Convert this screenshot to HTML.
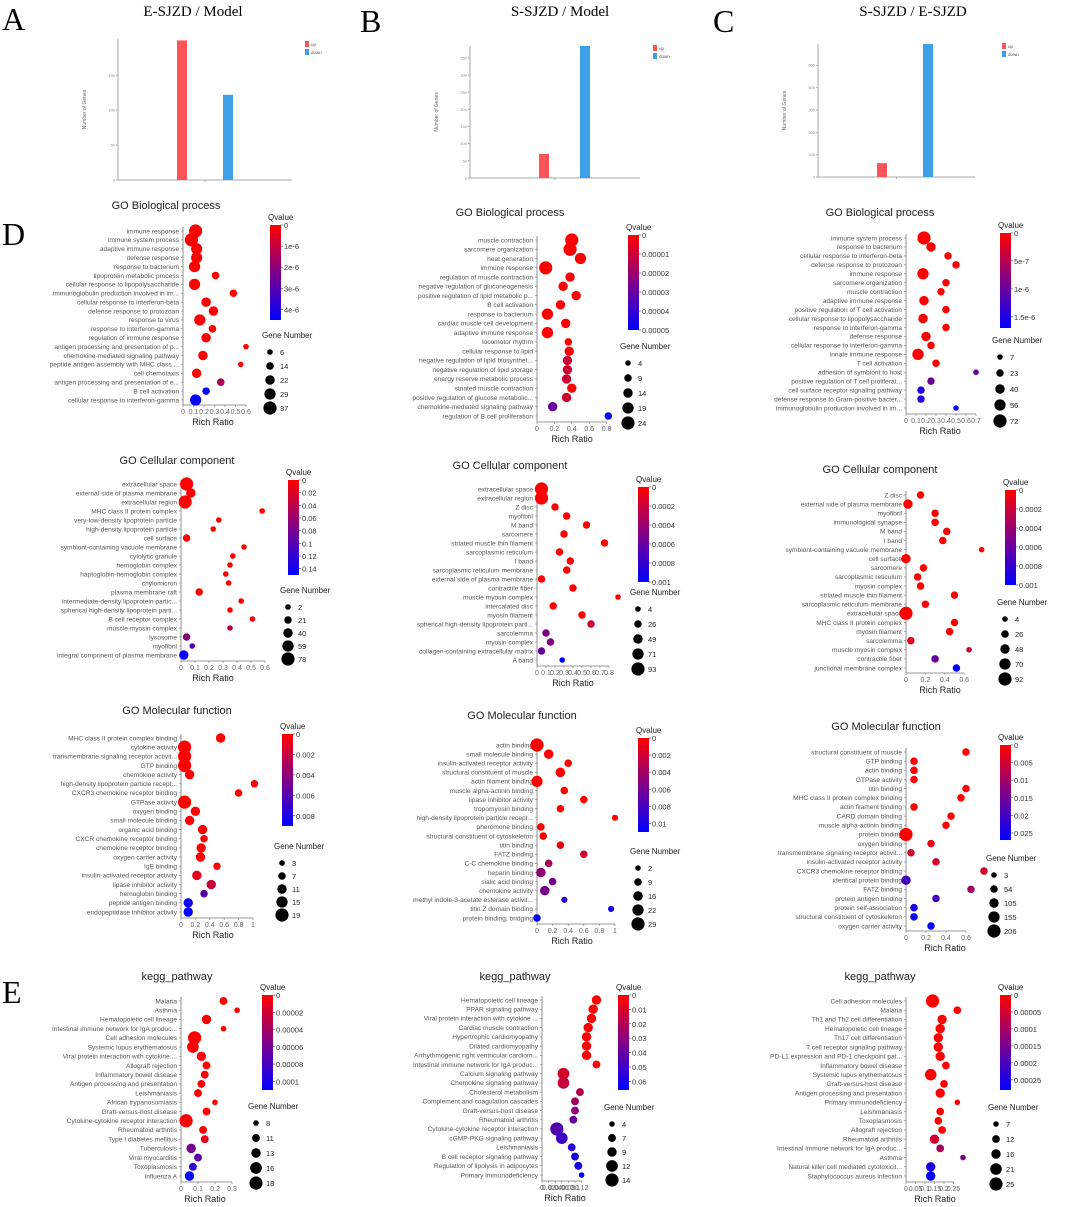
<!DOCTYPE html>
<html><head><meta charset="utf-8">
<style>
html,body{margin:0;padding:0;background:#fff;}
svg{display:block;font-family:"Liberation Sans",sans-serif;}
</style></head>
<body>
<svg id="fig" width="1065" height="1207" viewBox="0 0 1065 1207" xmlns="http://www.w3.org/2000/svg">
<defs>
<linearGradient id="qgrad" x1="0" y1="0" x2="0" y2="1"><stop offset="0" stop-color="#ff0000"/><stop offset="0.5" stop-color="#80008a"/><stop offset="1" stop-color="#0000ff"/></linearGradient>
</defs>
<g font-family="Liberation Serif,serif" fill="#000">
<text x="2" y="30" font-size="32">A</text>
<text x="360" y="32" font-size="32">B</text>
<text x="713" y="32" font-size="32">C</text>
<text x="2" y="245" font-size="32">D</text>
<text x="2" y="1003" font-size="32">E</text>
</g>
</svg>
<script>
// ---------- bar chart data ----------
const barCats = ["up","down"];
const barA = [200,122];
const barB = [70,385];
const barC = [62,595];
const barTicksA = [0,50,100,150];
const barTicksB = [0,50,100,150,200,250,300,350];
const barTicksC = [0,100,200,300,400,500];

// ---------- dot plot data ----------
const bp1Terms = ["immune response","immune system process","adaptive immune response","defense response","response to bacterium","lipoprotein metabolic process","cellular response to lipopolysaccharide","immunoglobulin production involved in im...","cellular response to interferon-beta","defense response to protozoan","response to virus","response to interferon-gamma","regulation of immune response","antigen processing and presentation of p...","chemokine-mediated signaling pathway","peptide antigen assembly with MHC class ...","cell chemotaxis","antigen processing and presentation of e...","B cell activation","cellular response to interferon-gamma"];
const bp1Ratio = [0.12,0.08,0.13,0.13,0.11,0.31,0.11,0.48,0.22,0.29,0.16,0.28,0.22,0.6,0.19,0.55,0.13,0.36,0.22,0.12];
const bp1Q = [0,0,0,0,0,0,0,0,0,0,0,0,0,0,0,0,0,1.5e-6,4.5e-6,4.5e-6];
const bp1Genes = [37,37,29,29,29,14,29,14,22,22,29,14,22,6,22,6,22,14,14,29];

const bp2Terms = ["muscle contraction","sarcomere organization","heat generation","immune response","regulation of muscle contraction","negative regulation of gluconeogenesis","positive regulation of lipid metabolic p...","B cell activation","response to bacterium","cardiac muscle cell development","adaptive immune response","locomotor rhythm","cellular response to lipid","negative regulation of lipid biosynthet...","negative regulation of lipid storage","energy reserve metabolic process","striated muscle contraction","positive regulation of glucose metabolic...","chemokine-mediated signaling pathway","regulation of B cell proliferation"];
const bp2Ratio = [0.4,0.38,0.5,0.1,0.38,0.3,0.45,0.27,0.12,0.33,0.12,0.36,0.37,0.35,0.35,0.34,0.4,0.34,0.18,0.82];
const bp2Q = [0,0,0,0,0,0,0,0,0,0,0,0,0,1e-5,1e-5,1e-5,0,1e-5,3e-5,5e-5];
const bp2Genes = [24,24,19,24,14,14,14,14,19,14,19,9,14,14,14,14,14,14,14,9];

const bp3Terms = ["immune system process","response to bacterium","cellular response to interferon-beta","defense response to protozoan","immune response","sarcomere organization","muscle contraction","adaptive immune response","positive regulation of T cell activation","cellular response to lipopolysaccharide","response to interferon-gamma","defense response","cellular response to interferon-gamma","innate immune response","T cell activation","adhesion of symbiont to host","positive regulation of T cell proliferat...","cell surface receptor signaling pathway","defense response to Gram-positive bacter...","immunoglobulin production involved in im..."];
const bp3Ratio = [0.18,0.25,0.42,0.5,0.17,0.4,0.35,0.18,0.4,0.17,0.4,0.2,0.25,0.12,0.3,0.7,0.25,0.15,0.15,0.5];
const bp3Q = [0,0,0,0,0,0,0,0,0,0,0,0,0,0,0,1e-6,1e-6,1.5e-6,1.5e-6,1.7e-6];
const bp3Genes = [72,40,23,23,56,23,23,40,23,40,23,40,23,56,23,7,23,23,23,7];

const cc1Terms = ["extracellular space","external side of plasma membrane","extracellular region","MHC class II protein complex","very-low-density lipoprotein particle","high-density lipoprotein particle","cell surface","symbiont-containing vacuole membrane","cytolytic granule","hemoglobin complex","haptoglobin-hemoglobin complex","chylomicron","plasma membrane raft","intermediate-density lipoprotein partic...","spherical high-density lipoprotein parti...","B cell receptor complex","muscle myosin complex","lysosome","myofibril","integral component of plasma membrane"];
const cc1Ratio = [0.04,0.07,0.03,0.58,0.27,0.23,0.04,0.45,0.37,0.35,0.32,0.34,0.13,0.43,0.35,0.51,0.35,0.04,0.08,0.02];
const cc1Q = [0,0,0,0,0,0,0,0,0,0,0,0,0,0,0,0,0.04,0.07,0.1,0.145];
const cc1Genes = [78,40,78,2,2,2,21,2,2,2,2,2,21,2,2,2,2,21,2,40];

const cc2Terms = ["extracellular space","extracellular region","Z disc","myofibril","M band","sarcomere","striated muscle thin filament","sarcoplasmic reticulum","I band","sarcoplasmic reticulum membrane","external side of plasma membrane","contractile fiber","muscle myosin complex","intercalated disc","myosin filament","spherical high-density lipoprotein parti...","sarcolemma","myosin complex","collagen-containing extracellular matrix","A band"];
const cc2Ratio = [0.05,0.05,0.2,0.33,0.55,0.3,0.75,0.25,0.37,0.33,0.05,0.4,0.9,0.18,0.5,0.6,0.1,0.15,0.05,0.28];
const cc2Q = [0,0,0,0,0,0,0,0,0,0,0,0,0,0,0,0.0002,0.0005,0.0005,0.0006,0.001];
const cc2Genes = [93,93,26,26,26,26,26,26,26,26,26,26,4,26,26,26,26,26,26,4];

const cc3Terms = ["Z disc","external side of plasma membrane","myofibril","immunological synapse","M band","I band","symbiont-containing vacuole membrane","cell surface","sarcomere","sarcoplasmic reticulum","myosin complex","striated muscle thin filament","sarcoplasmic reticulum membrane","extracellular space","MHC class II protein complex","myosin filament","sarcolemma","muscle myosin complex","contractile fiber","junctional membrane complex"];
const cc3Ratio = [0.15,0.02,0.3,0.3,0.42,0.38,0.78,0.0,0.18,0.12,0.15,0.5,0.2,0.0,0.5,0.45,0.05,0.65,0.3,0.52];
const cc3Q = [0,0,0,0,0,0,0,0,0,0,0,0,0,0,0,0,0.0001,0.0002,0.0006,0.001];
const cc3Genes = [26,48,26,26,26,26,4,48,26,26,26,26,26,92,26,26,26,4,26,26];

const mf1Terms = ["MHC class II protein complex binding","cytokine activity","transmembrane signaling receptor activit...","GTP binding","chemokine activity","high-density lipoprotein particle recept...","CXCR3 chemokine receptor binding","GTPase activity","oxygen binding","small molecule binding","organic acid binding","CXCR chemokine receptor binding","chemokine receptor binding","oxygen carrier activity","IgE binding","insulin-activated receptor activity","lipase inhibitor activity","hemoglobin binding","peptide antigen binding","endopeptidase inhibitor activity"];
const mf1Ratio = [0.55,0.05,0.05,0.05,0.12,1.02,0.8,0.05,0.2,0.12,0.3,0.32,0.28,0.27,0.5,0.22,0.42,0.32,0.1,0.1];
const mf1Q = [0,0,0,0,0,0,0,0,0,0,0,0,0,0,0,0.001,0.002,0.006,0.0085,0.009];
const mf1Genes = [11,19,19,19,11,7,7,19,11,11,11,7,11,11,7,11,11,7,11,11];

const mf2Terms = ["actin binding","small molecule binding","insulin-activated receptor activity","structural constituent of muscle","actin filament binding","muscle alpha-actinin binding","lipase inhibitor activity","tropomyosin binding","high-density lipoprotein particle recept...","pheromone binding","structural constituent of cytoskeleton","titin binding","FATZ binding","C-C chemokine binding","heparin binding","sialic acid binding","chemokine activity","methyl indole-3-acetate esterase activit...","titin Z domain binding","protein binding, bridging"];
const mf2Ratio = [0.0,0.15,0.4,0.3,0.0,0.35,0.6,0.3,1.0,0.05,0.08,0.3,0.6,0.15,0.05,0.2,0.1,0.35,0.95,0.0];
const mf2Q = [0,0,0,0,0,0,0,0,0,0,0,0.001,0.002,0.004,0.005,0.006,0.006,0.009,0.01,0.011];
const mf2Genes = [29,16,9,16,22,9,9,9,4,9,9,9,9,9,16,9,16,4,4,9];

const mf3Terms = ["structural constituent of muscle","GTP binding","actin binding","GTPase activity","titin binding","MHC class II protein complex binding","actin filament binding","CARD domain binding","muscle alpha-actinin binding","protein binding","oxygen binding","transmembrane signaling receptor activit...","insulin-activated receptor activity","CXCR3 chemokine receptor binding","identical protein binding","FATZ binding","protein antigen binding","protein self-association","structural constituent of cytoskeleton","oxygen carrier activity"];
const mf3Ratio = [0.6,0.08,0.08,0.08,0.6,0.55,0.08,0.45,0.4,0.0,0.25,0.05,0.3,0.78,0.0,0.65,0.3,0.08,0.08,0.25];
const mf3Q = [0,0,0,0,0,0,0,0,0,0,0.002,0.005,0.005,0.005,0.02,0.01,0.02,0.024,0.026,0.027];
const mf3Genes = [54,54,54,54,54,54,54,54,54,206,54,54,54,54,105,54,54,54,54,54];

const kg1Terms = ["Malaria","Asthma","Hematopoietic cell lineage","Intestinal immune network for IgA produc...","Cell adhesion molecules","Systemic lupus erythematosus","Viral protein interaction with cytokine ...","Allograft rejection","Inflammatory bowel disease","Antigen processing and presentation","Leishmaniasis","African trypanosomiasis","Graft-versus-host disease","Cytokine-cytokine receptor interaction","Rheumatoid arthritis","Type I diabetes mellitus","Tuberculosis","Viral myocarditis","Toxoplasmosis","Influenza A"];
const kg1Ratio = [0.25,0.33,0.15,0.25,0.08,0.07,0.12,0.15,0.14,0.12,0.1,0.2,0.15,0.03,0.13,0.14,0.06,0.1,0.07,0.05];
const kg1Q = [0,0,0,0,0,0,0,0,0,0,0,0,0,0,0,1e-5,6e-5,7e-5,9e-5,1.1e-4];
const kg1Genes = [11,8,13,8,18,16,13,11,11,11,11,8,11,18,11,11,13,11,11,13];

const kg2Terms = ["Hematopoietic cell lineage","PPAR signaling pathway","Viral protein interaction with cytokine ...","Cardiac muscle contraction","Hypertrophic cardiomyopathy","Dilated cardiomyopathy","Arrhythmogenic right ventricular cardiom...","Intestinal immune network for IgA produc...","Calcium signaling pathway","Chemokine signaling pathway","Cholesterol metabolism","Complement and coagulation cascades","Graft-versus-host disease","Rheumatoid arthritis","Cytokine-cytokine receptor interaction","cGMP-PKG signaling pathway","Leishmaniasis","B cell receptor signaling pathway","Regulation of lipolysis in adipocytes","Primary immunodeficiency"];
const kg2Ratio = [0.165,0.155,0.15,0.14,0.135,0.135,0.135,0.165,0.065,0.065,0.115,0.1,0.1,0.095,0.045,0.06,0.09,0.1,0.11,0.12];
const kg2Q = [0,0,0,0,0,0,0,0.001,0.01,0.015,0.02,0.025,0.03,0.04,0.045,0.05,0.055,0.06,0.06,0.065];
const kg2Genes = [9,9,9,9,9,9,9,7,12,12,7,7,7,7,14,12,7,7,7,4];

const kg3Terms = ["Cell adhesion molecules","Malaria","Th1 and Th2 cell differentiation","Hematopoietic cell lineage","Th17 cell differentiation","T cell receptor signaling pathway","PD-L1 expression and PD-1 checkpoint pat...","Inflammatory bowel disease","Systemic lupus erythematosus","Graft-versus-host disease","Antigen processing and presentation","Primary immunodeficiency","Leishmaniasis","Toxoplasmosis","Allograft rejection","Rheumatoid arthritis","Intestinal immune network for IgA produc...","Asthma","Natural killer cell mediated cytotoxicit...","Staphylococcus aureus infection"];
const kg3Ratio = [0.14,0.27,0.19,0.18,0.17,0.17,0.18,0.21,0.13,0.2,0.18,0.27,0.18,0.17,0.19,0.15,0.18,0.3,0.13,0.13];
const kg3Q = [0,0,0,0,0,0,0,0,0,0,0,0,0,0,0,5e-5,1e-4,1.5e-4,2.5e-4,2.8e-4];
const kg3Genes = [25,12,16,16,16,16,16,12,21,12,16,7,12,12,12,16,12,7,16,16];

// tick arrays
const ticksA06 = [0,0.1,0.2,0.3,0.4,0.5,0.6];
const ticksA08 = [0,0.2,0.4,0.6,0.8];
const ticksA07 = [0,0.1,0.2,0.3,0.4,0.5,0.6,0.7];
const ticksA08b = [0,0.1,0.2,0.3,0.4,0.5,0.6,0.7,0.8];
const ticksA06b = [0,0.2,0.4,0.6];
const ticksA10 = [0,0.2,0.4,0.6,0.8,1];
const ticksK1 = [0,0.1,0.2,0.3];
const ticksK2 = [0,0.02,0.04,0.06,0.08,0.1,0.12];
const ticksK3 = [0,0.05,0.1,0.15,0.2,0.25];
const qtBp1 = ["0","1e-6","2e-6","3e-6","4e-6"]; const qvBp1=[0,1e-6,2e-6,3e-6,4e-6];
const qtBp2 = ["0","0.00001","0.00002","0.00003","0.00004","0.00005"]; const qvBp2=[0,1e-5,2e-5,3e-5,4e-5,5e-5];
const qtBp3 = ["0","5e-7","1e-6","1.5e-6"]; const qvBp3=[0,5e-7,1e-6,1.5e-6];
const qtCc1 = ["0","0.02","0.04","0.06","0.08","0.1","0.12","0.14"]; const qvCc1=[0,0.02,0.04,0.06,0.08,0.1,0.12,0.14];
const qtCc2 = ["0","0.0002","0.0004","0.0006","0.0008","0.001"]; const qvCc2=[0,0.0002,0.0004,0.0006,0.0008,0.001];
const qtMf1 = ["0","0.002","0.004","0.006","0.008"]; const qvMf1=[0,0.002,0.004,0.006,0.008];
const qtMf2 = ["0","0.002","0.004","0.006","0.008","0.01"]; const qvMf2=[0,0.002,0.004,0.006,0.008,0.01];
const qtMf3 = ["0","0.005","0.01","0.015","0.02","0.025"]; const qvMf3=[0,0.005,0.01,0.015,0.02,0.025];
const qtKg1 = ["0","0.00002","0.00004","0.00006","0.00008","0.0001"]; const qvKg1=[0,2e-5,4e-5,6e-5,8e-5,1e-4];
const qtKg2 = ["0","0.01","0.02","0.03","0.04","0.05","0.06"]; const qvKg2=[0,0.01,0.02,0.03,0.04,0.05,0.06];
const qtKg3 = ["0","0.00005","0.0001","0.00015","0.0002","0.00025"]; const qvKg3=[0,5e-5,1e-4,1.5e-4,2e-4,2.5e-4];
const gBp1=[6,14,22,29,37], gBp2=[4,9,14,19,24], gBp3=[7,23,40,56,72];
const gCc1=[2,21,40,59,78], gCc2=[4,26,49,71,93], gCc3=[4,26,48,70,92];
const gMf1=[3,7,11,15,19], gMf2=[2,9,16,22,29], gMf3=[3,54,105,155,206];
const gKg1=[8,11,13,16,18], gKg2=[4,7,9,12,14], gKg3=[7,12,16,21,25];

const NS="http://www.w3.org/2000/svg";
const svg=document.getElementById('fig');
function mk(tag,attrs,parent,txt){const e=document.createElementNS(NS,tag);for(const k in attrs)e.setAttribute(k,attrs[k]);if(txt!==undefined)e.textContent=txt;(parent||svg).appendChild(e);return e;}
function qColor(q,qmax){const t=Math.max(0,Math.min(1,q/qmax));const r=Math.round(255*(1-t)),b=Math.round(255*t);return `rgb(${r},0,${b})`;}

function barChart(L,title,vals,ticks){
  const g=mk('g',{});
  
  
  const t=mk('text',{x:L.tx,y:16,'font-size':15,'text-anchor':'middle','font-family':'Liberation Serif,serif'},g,title);
  
  
  const y=v=>L.yb-(v/L.vmax)*(L.yb-L.yt);
  mk('line',{x1:L.x0,y1:L.yt,x2:L.x0,y2:L.yb,stroke:'#aaa','stroke-width':1},g);
  mk('line',{x1:L.x0,y1:L.yb,x2:L.x1,y2:L.yb,stroke:'#aaa','stroke-width':1},g);
  mk('line',{x1:(L.x0+L.x1)/2,y1:L.yb,x2:(L.x0+L.x1)/2,y2:L.yb+2,stroke:'#aaa'},g);
  ticks.forEach(v=>{mk('line',{x1:L.x0-2,y1:y(v),x2:L.x0,y2:y(v),stroke:'#aaa'},g);
    mk('text',{x:L.x0-3,y:y(v)+1.5,'font-size':4,fill:'#888','text-anchor':'end'},g,String(v));});
  const yl=mk('text',{x:L.x0-32,y:(L.yt+L.yb)/2,'font-size':5,fill:'#666','text-anchor':'middle',transform:`rotate(-90 ${L.x0-32} ${(L.yt+L.yb)/2})`},g,'Number of Genes');
  
  
  const cols=['#fd5457','#3ea0e6'];
  vals.forEach((v,i)=>{const r=mk('rect',{x:L.bx[i],y:y(v),width:10,height:L.yb-y(v),fill:cols[i]},g);
    
    });
  barCats.forEach((c,i)=>{const le=mk('g',{},g);
    
    
    mk('rect',{x:L.lx,y:L.ly+i*8,width:4,height:6,fill:cols[i]},le);
    mk('text',{x:L.lx+6,y:L.ly+i*8+5,'font-size':4.5,fill:'#555'},le,c);});
}
barChart({id:'a',tx:193,x0:118,x1:292,yt:39,yb:180,vmax:202,bx:[177,223],lx:305,ly:41},'E-SJZD / Model',barA,barTicksA);
barChart({id:'b',tx:560,x0:470,x1:640,yt:46,yb:178,vmax:385,bx:[539,580],lx:653,ly:45},'S-SJZD / Model',barB,barTicksB);
barChart({id:'c',tx:913,x0:818,x1:975,yt:44,yb:177,vmax:595,bx:[877,923],lx:1002,ly:43},'S-SJZD / E-SJZD',barC,barTicksC);

function dotPlot(P,title,terms,ratio,q,genes,xticks,qv,qt,gl){
  const g=mk('g',{});
  
  
  const tt=mk('text',{x:P.tx,y:P.ty,'font-size':11,fill:'#222','text-anchor':'middle'},g,title);
  
  
  const n=terms.length;
  const xs=v=>P.x0+v*P.ppu;
  const ys=i=>P.yTop+i*(P.yBot-P.yTop)/(n-1);
  const gmin=gl[0],gmax=gl[gl.length-1];
  const rs=v=>2.8+3.8*Math.max(0,(v-gmin))/(gmax-gmin);
  mk('line',{x1:P.x0,y1:P.yTop-4,x2:P.x0,y2:P.axisY,stroke:'#777','stroke-width':0.8},g);
  const xmax=xticks[xticks.length-1];
  mk('line',{x1:P.x0,y1:P.axisY,x2:xs(xmax),y2:P.axisY,stroke:'#777','stroke-width':0.8},g);
  xticks.forEach(v=>{mk('line',{x1:xs(v),y1:P.axisY,x2:xs(v),y2:P.axisY+2,stroke:'#777','stroke-width':0.6},g);
    mk('text',{x:xs(v),y:P.axisY+9,'font-size':7,fill:'#666','text-anchor':'middle'},g,String(v));});
  const xl=mk('text',{x:P.xlx,y:P.axisY+20,'font-size':9,fill:'#222','text-anchor':'middle'},g,'Rich Ratio');
  
  
  terms.forEach((t,i)=>{
    mk('line',{x1:P.x0-2,y1:ys(i),x2:P.x0,y2:ys(i),stroke:'#777','stroke-width':0.6},g);
    const lb=mk('text',{x:P.x0-4,y:ys(i)+2.3,'font-size':6.6,fill:'#555','text-anchor':'end'},g,t);
    
    
    const c=mk('circle',{cx:xs(ratio[i]),cy:ys(i),r:rs(genes[i]),fill:qColor(q[i],P.qmax)},g);
    
    
  });
  const ql=mk('text',{x:P.cbX-2,y:P.cbY-5,'font-size':8,fill:'#222'},g,'Qvalue');
  
  
  const cb=mk('rect',{x:P.cbX,y:P.cbY,width:11,height:P.cbH,fill:'url(#qgrad)'},g);
  
  
  qv.forEach((v,i)=>{const yy=P.cbY+(v/P.qmax)*P.cbH;
    mk('line',{x1:P.cbX+11,y1:yy,x2:P.cbX+13,y2:yy,stroke:'#333','stroke-width':0.6},g);
    mk('text',{x:P.cbX+14,y:yy+3,'font-size':7.5,fill:'#333'},g,qt[i]);});
  const gt=mk('text',{x:P.lgX-4,y:P.lgY,'font-size':8,fill:'#222'},g,'Gene Number');
  
  
  gl.forEach((v,i)=>{const yy=P.lgY+14+i*P.lgStep;
    const le=mk('g',{},g);
    
    
    mk('circle',{cx:P.lgX+4,cy:yy,r:rs(v),fill:'#000'},le);
    mk('text',{x:P.lgX+14,y:yy+3,'font-size':7.5,fill:'#222'},le,String(v));});
}
// column 1 / 2 / 3
dotPlot({id:'go-bp-e-sjzd',tx:166,ty:209,x0:183,ppu:105,yTop:231,yBot:400,axisY:405,xlx:213,cbX:270,cbY:225,cbH:95,qmax:4.5e-6,lgX:266,lgY:338,lgStep:14},'GO Biological process',bp1Terms,bp1Ratio,bp1Q,bp1Genes,ticksA06,qvBp1,qtBp1,gBp1);
dotPlot({id:'go-bp-s-sjzd',tx:510,ty:216,x0:537,ppu:87,yTop:240,yBot:416,axisY:422,xlx:572,cbX:628,cbY:235,cbH:95,qmax:5e-5,lgX:624,lgY:349,lgStep:15},'GO Biological process',bp2Terms,bp2Ratio,bp2Q,bp2Genes,ticksA08,qvBp2,qtBp2,gBp2);
dotPlot({id:'go-bp-s-vs-e',tx:880,ty:216,x0:906,ppu:100,yTop:238,yBot:408,axisY:414,xlx:940,cbX:1000,cbY:233,cbH:95,qmax:1.7e-6,lgX:996,lgY:343,lgStep:16},'GO Biological process',bp3Terms,bp3Ratio,bp3Q,bp3Genes,ticksA07,qvBp3,qtBp3,gBp3);

dotPlot({id:'go-cc-e-sjzd',tx:177,ty:464,x0:181,ppu:140,yTop:484,yBot:655,axisY:661,xlx:213,cbX:288,cbY:480,cbH:95,qmax:0.15,lgX:284,lgY:593,lgStep:13},'GO Cellular component',cc1Terms,cc1Ratio,cc1Q,cc1Genes,ticksA06,qvCc1,qtCc1,gCc1);
dotPlot({id:'go-cc-s-sjzd',tx:510,ty:469,x0:537,ppu:90,yTop:489,yBot:660,axisY:666,xlx:573,cbX:638,cbY:487,cbH:95,qmax:0.001,lgX:634,lgY:595,lgStep:15},'GO Cellular component',cc2Terms,cc2Ratio,cc2Q,cc2Genes,ticksA08b,qvCc2,qtCc2,gCc2);
dotPlot({id:'go-cc-s-vs-e',tx:880,ty:473,x0:906,ppu:97,yTop:495,yBot:668,axisY:673,xlx:940,cbX:1005,cbY:490,cbH:95,qmax:0.001,lgX:1001,lgY:605,lgStep:15},'GO Cellular component',cc3Terms,cc3Ratio,cc3Q,cc3Genes,ticksA06b,qvCc2,qtCc2,gCc3);

dotPlot({id:'go-mf-e-sjzd',tx:177,ty:714,x0:181,ppu:72,yTop:738,yBot:912,axisY:918,xlx:213,cbX:282,cbY:734,cbH:92,qmax:0.009,lgX:278,lgY:849,lgStep:13},'GO Molecular function',mf1Terms,mf1Ratio,mf1Q,mf1Genes,ticksA10,qvMf1,qtMf1,gMf1);
dotPlot({id:'go-mf-s-sjzd',tx:522,ty:719,x0:537,ppu:78,yTop:745,yBot:918,axisY:924,xlx:572,cbX:638,cbY:738,cbH:94,qmax:0.011,lgX:634,lgY:854,lgStep:14},'GO Molecular function',mf2Terms,mf2Ratio,mf2Q,mf2Genes,ticksA10,qvMf2,qtMf2,gMf2);
dotPlot({id:'go-mf-s-vs-e',tx:886,ty:730,x0:906,ppu:100,yTop:752,yBot:926,axisY:931,xlx:945,cbX:1000,cbY:745,cbH:95,qmax:0.027,lgX:990,lgY:861,lgStep:14},'GO Molecular function',mf3Terms,mf3Ratio,mf3Q,mf3Genes,ticksA06b,qvMf3,qtMf3,gMf3);

dotPlot({id:'kegg-e-sjzd',tx:177,ty:980,x0:181,ppu:170,yTop:1001,yBot:1176,axisY:1182,xlx:205,cbX:262,cbY:995,cbH:95,qmax:1.1e-4,lgX:252,lgY:1109,lgStep:15},'kegg_pathway',kg1Terms,kg1Ratio,kg1Q,kg1Genes,ticksK1,qvKg1,qtKg1,gKg1);
dotPlot({id:'kegg-s-sjzd',tx:515,ty:980,x0:542,ppu:330,yTop:1000,yBot:1175,axisY:1181,xlx:565,cbX:618,cbY:995,cbH:95,qmax:0.066,lgX:608,lgY:1110,lgStep:14},'kegg_pathway',kg2Terms,kg2Ratio,kg2Q,kg2Genes,ticksK2,qvKg2,qtKg2,gKg2);
dotPlot({id:'kegg-s-vs-e',tx:880,ty:980,x0:906,ppu:190,yTop:1001,yBot:1176,axisY:1182,xlx:935,cbX:1000,cbY:995,cbH:95,qmax:2.8e-4,lgX:992,lgY:1110,lgStep:15},'kegg_pathway',kg3Terms,kg3Ratio,kg3Q,kg3Genes,ticksK3,qvKg3,qtKg3,gKg3);
</script>
</body></html>
